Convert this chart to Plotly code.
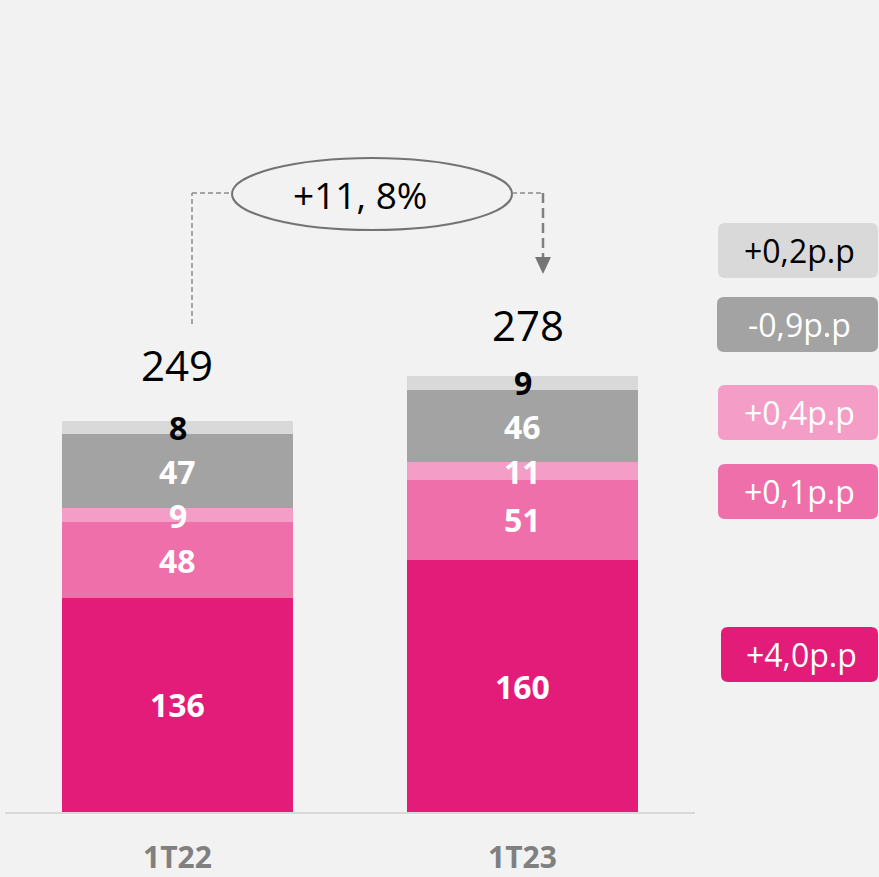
import plotly.graph_objects as go

# ---- data -------------------------------------------------------------
categories = ["1T22", "1T23"]
seg_1 = [136, 160]
seg_2 = [48, 51]
seg_3 = [9, 11]
seg_4 = [47, 46]
seg_5 = [8, 9]
totals = [249, 278]
growth_label = "+11, 8%"
delta_labels = ["+4,0p.p", "+0,1p.p", "+0,4p.p", "-0,9p.p", "+0,2p.p"]

series = [seg_1, seg_2, seg_3, seg_4, seg_5]
colors = ["#E31C79", "#EE6FAA", "#F39DC7", "#A3A3A3", "#D9D9D9"]
label_colors = ["white", "white", "white", "white", "black"]

# ---- geometry helpers (pixel -> paper) ----------------------------------
W, H = 879, 877
ML, MR, MT, MB = 5, 184, 0, 65
PW, PH = W - ML - MR, H - MT - MB


def px(x):
    return (x - ML) / PW


def py(y):
    return (H - MB - y) / PH


def rounded_rect(x0, y0, x1, y1, r):
    pts = [
        ("M", (x0 + r, y0)), ("L", (x1 - r, y0)), ("Q", (x1, y0), (x1, y0 + r)),
        ("L", (x1, y1 - r)), ("Q", (x1, y1), (x1 - r, y1)),
        ("L", (x0 + r, y1)), ("Q", (x0, y1), (x0, y1 - r)),
        ("L", (x0, y0 + r)), ("Q", (x0, y0), (x0 + r, y0)),
    ]
    out = []
    for cmd, *coords in pts:
        out.append(cmd + " ".join(f"{px(a):.5f},{py(b):.5f}" for a, b in coords))
    return " ".join(out) + " Z"


FONT = "Open Sans, sans-serif"

fig = go.Figure()
for vals, col in zip(series, colors):
    fig.add_trace(go.Bar(
        x=categories, y=vals, marker=dict(color=col, line=dict(width=0)),
        hoverinfo="skip", showlegend=False,
    ))

annotations = []
# segment value labels
for i, cat in enumerate(categories):
    base = 0
    for vals, lc in zip(series, label_colors):
        v = vals[i]
        annotations.append(dict(
            x=cat, y=base + v / 2, xref="x", yref="y", text=f"<b>{v}</b>",
            xanchor="center", yanchor="middle",
            showarrow=False, font=dict(family=FONT, size=32, color=lc),
        ))
        base += v
    annotations.append(dict(
        x=cat, y=base, xref="x", yref="y", text=str(totals[i]),
        showarrow=False, xanchor="center", yanchor="bottom",
        yshift=26 - 5 * i, xshift=-1 + 6 * i,
        font=dict(family=FONT, size=42, color="black"),
    ))

shapes = []
# growth ellipse and dashed connectors
shapes.append(dict(type="circle", xref="paper", yref="paper",
                   x0=px(232), x1=px(512), y0=py(230), y1=py(158),
                   line=dict(color="#737373", width=2), fillcolor="rgba(0,0,0,0)"))
annotations.append(dict(x=px(360), y=py(194), xref="paper", yref="paper",
                        text=growth_label, showarrow=False,
                        xanchor="center", yanchor="middle",
                        font=dict(family=FONT, size=37, color="black")))
dash_thin = dict(color="#8C8C8C", width=1.5, dash="5px,3px")
dash_thick = dict(color="#808080", width=2.5, dash="10px,5px")
shapes += [
    dict(type="line", xref="paper", yref="paper", x0=px(192), x1=px(192),
         y0=py(324), y1=py(193), line=dash_thin),
    dict(type="line", xref="paper", yref="paper", x0=px(192), x1=px(232),
         y0=py(193), y1=py(193), line=dash_thin),
    dict(type="line", xref="paper", yref="paper", x0=px(512), x1=px(543),
         y0=py(193), y1=py(193), line=dash_thin),
    dict(type="line", xref="paper", yref="paper", x0=px(543), x1=px(543),
         y0=py(193), y1=py(260), line=dash_thick),
    dict(type="path", xref="paper", yref="paper",
         path=f"M{px(535):.5f},{py(257):.5f} L{px(551):.5f},{py(257):.5f} "
              f"L{px(543):.5f},{py(274):.5f} Z",
         fillcolor="#767676", line=dict(width=0)),
]

# change badges on the right
badge_boxes = [(721, 627, 879, 682), (718, 464, 879, 519), (718, 385, 879, 440),
               (717, 297, 879, 352), (718, 223, 879, 278)]
badge_text = ["white", "white", "white", "white", "black"]
for (x0, y0, x1, y1), col, tc, txt in zip(badge_boxes, colors, badge_text, delta_labels):
    shapes.append(dict(type="path", xref="paper", yref="paper",
                       path=rounded_rect(x0, y0, x1 - 1, y1, 7),
                       fillcolor=col, line=dict(width=0)))
    annotations.append(dict(x=px((x0 + x1) / 2 + 1), y=py((y0 + y1) / 2),
                            xref="paper", yref="paper", text=txt, showarrow=False,
                            xanchor="center", yanchor="middle",
                            font=dict(family=FONT, size=32, color=tc)))

fig.update_layout(
    width=W, height=H, margin=dict(l=ML, r=MR, t=MT, b=MB, autoexpand=False),
    paper_bgcolor="#F2F2F2", plot_bgcolor="#F2F2F2",
    barmode="stack", bargap=0.333,
    shapes=shapes, annotations=annotations,
    xaxis=dict(range=[-0.5, 1.5], showline=True, linecolor="#D9D9D9", linewidth=2,
               showgrid=False, zeroline=False, ticks="", automargin=False,
               tickfont=dict(family=FONT, size=30, color="#808080", weight="bold"),
               ticklabelstandoff=18),
    yaxis=dict(range=[0, PH / 1.575], visible=False, showgrid=False, zeroline=False,
               automargin=False),
)

fig.write_html("out.html")
